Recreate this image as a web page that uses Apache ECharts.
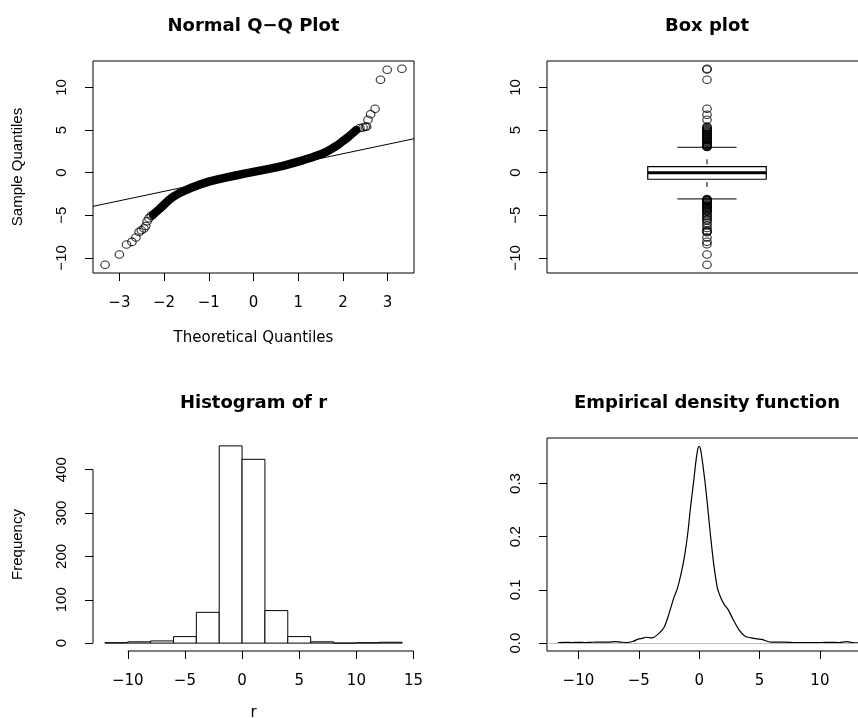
<!DOCTYPE html>
<html>
<head>
<meta charset="utf-8">
<script src="https://cdn.jsdelivr.net/npm/echarts@6/dist/echarts.min.js"></script>
<style>
html,body{margin:0;padding:0;background:#fff}
#main{width:858px;height:718px}
</style>
</head>
<body>
<div id="main"></div>
<script>
//Q-Q 图：两端单独的点
let qqTailX = [-3.32, -3.0, -2.84, -2.72, -2.63, -2.56, -2.51, -2.45, -2.41, -2.38, -2.34, -2.29,
               2.38, 2.45, 2.50, 2.53, 2.56, 2.62, 2.72, 2.84, 2.99, 3.32]
let qqTailY = [-10.8, -9.6, -8.43, -8.12, -7.6, -6.95, -6.75, -6.55, -6.25, -5.7, -5.35, -5.07,
               5.23, 5.3, 5.38, 5.42, 6.2, 6.85, 7.5, 10.9, 12.08, 12.2]
//Q-Q 图：中间密集的点（连成粗带）
let qqBandX = [-2.25, -2.2, -2.1, -2.0, -1.9, -1.8, -1.66, -1.5, -1.36, -1.2, -1.0, -0.8, -0.6, -0.4, -0.2,
               0, 0.2, 0.4, 0.66, 0.9, 1.1, 1.3, 1.5, 1.65, 1.78, 1.9, 2.0, 2.1, 2.2, 2.3]
let qqBandY = [-4.95, -4.7, -4.25, -3.75, -3.25, -2.85, -2.4, -2.03, -1.7, -1.4, -1.05, -0.8, -0.55, -0.33, -0.12,
               0.1, 0.3, 0.5, 0.8, 1.15, 1.45, 1.78, 2.15, 2.5, 2.9, 3.3, 3.72, 4.1, 4.55, 5.0]
//qqline
let qqLineX = [-3.59, 3.59]
let qqLineY = [-3.95, 3.98]
let qqXTicks = [-3, -2, -1, 0, 1, 2, 3]
let sampleTicks = [-10, -5, 0, 5, 10]
let qqXlim = [-3.59, 3.59]
let sampleYlim = [-11.77, 13.1]

//箱线图：下须、Q1、中位数、Q3、上须
let boxStats = [-3.08, -0.77, 0.0, 0.70, 2.98]
let boxOutliers = [3.0, 3.05, 3.1, 3.15, 3.2, 3.25, 3.3, 3.4, 3.5, 3.6, 3.7, 3.8, 3.9, 4.0, 4.1, 4.2, 4.3, 4.4, 4.5, 4.6, 4.7, 4.8, 4.9,
                   5.0, 5.1, 5.2, 5.3, 5.4, 6.2, 6.8, 7.5, 10.9, 12.1, 12.2,
                   -3.1, -3.15, -3.2, -3.25, -3.3, -3.4, -3.5, -3.6, -3.7, -3.8, -3.9, -4.0, -4.1, -4.2, -4.3, -4.4, -4.5, -4.6,
                   -4.8, -5.0, -5.1, -5.3, -5.5, -5.6, -5.9, -6.2, -6.5, -6.8, -6.9, -7.0, -7.6, -8.1, -8.4, -9.6, -10.8]
let boxXlim = [0.46, 1.54]

//直方图
let histBreaks = [-12, -10, -8, -6, -4, -2, 0, 2, 4, 6, 8, 10, 12, 14]
let histCounts = [1, 3, 5, 15, 71, 455, 424, 75, 15, 3, 0, 1, 2]
let histXTicks = [-10, -5, 0, 5, 10, 15]
let histYTicks = [0, 100, 200, 300, 400]
let histXlim = [-13.04, 15.04]
let histYlim = [-18.2, 473.2]

//核密度曲线
let densX = [-11.7, -11.0, -10.5, -10.0, -9.5, -9.0, -8.5, -8.0, -7.5, -7.0, -6.5, -6.0, -5.5, -5.0, -4.7, -4.4,
             -3.9, -3.4, -2.9, -2.5, -2.1, -1.8, -1.5, -1.2, -0.95, -0.7, -0.45, -0.25, -0.1, 0,
             0.1, 0.25, 0.5, 0.7, 0.95, 1.2, 1.5, 1.8, 2.1, 2.4, 2.8, 3.3, 3.8, 4.3, 4.8, 5.2, 5.7,
             6.0, 7.0, 8.0, 9.0, 10.0, 11.0, 11.5, 12.2, 12.7, 13.3]
let densY = [0.001, 0.0015, 0.001, 0.0015, 0.001, 0.0015, 0.002, 0.002, 0.002, 0.003, 0.002, 0.001, 0.003, 0.008, 0.009, 0.011,
             0.010, 0.017, 0.030, 0.055, 0.085, 0.103, 0.13, 0.165, 0.205, 0.258, 0.305, 0.345, 0.366, 0.370,
             0.366, 0.345, 0.300, 0.257, 0.200, 0.150, 0.105, 0.085, 0.072, 0.063, 0.045, 0.025, 0.013, 0.010, 0.008, 0.007, 0.003,
             0.002, 0.002, 0.001, 0.001, 0.001, 0.0015, 0.001, 0.003, 0.001, 0.0005]
let densXTicks = [-10, -5, 0, 5, 10]
let densYTicks = [0, 0.1, 0.2, 0.3]
let densXlim = [-12.6, 13.9]
let densYlim = [-0.0148, 0.3855]

let hFont = 'DejaVu Sans'
let vFont = 'Liberation Sans'

//负号换成 R 里的长减号
function minusFmt(v){
    return String(v).replace('-', '\u2212')
}

function xAxisOf(gridIndex, lim, ticks, fmt, name, nameGap){
    return {
        type:'value', gridIndex:gridIndex, min:lim[0], max:lim[1],
        axisLine:{show:false, onZero:false}, splitLine:{show:false},
        axisTick:{show:true, inside:false, length:8, customValues:ticks, lineStyle:{color:'#000'}},
        axisLabel:{customValues:ticks, formatter:fmt, color:'#000', fontSize:15, fontFamily:hFont, margin:23},
        name:name || '', nameLocation:'middle', nameGap:nameGap || 50,
        nameTextStyle:{color:'#000', fontSize:15, fontFamily:hFont}
    }
}

function yAxisOf(gridIndex, lim, ticks, fmt, name){
    return {
        type:'value', gridIndex:gridIndex, min:lim[0], max:lim[1],
        axisLine:{show:false, onZero:false}, splitLine:{show:false},
        axisTick:{show:true, inside:false, length:8, customValues:ticks, lineStyle:{color:'#000'}},
        axisLabel:{customValues:ticks, formatter:fmt, color:'#000', fontSize:15, fontFamily:vFont, rotate:90, margin:24},
        name:name || '', nameLocation:'middle', nameGap:68, nameRotate:90,
        nameTextStyle:{color:'#000', fontSize:15, fontFamily:vFont}
    }
}

let boxGrid = {show:true, borderColor:'#000', borderWidth:1, backgroundColor:'transparent', outerBoundsMode:'none'}
let circleStyle = {color:'rgba(0,0,0,0)', borderColor:'#000', borderWidth:1.1}

let myChart = echarts.init(document.getElementById('main'), null, {renderer:'canvas'})

let option = {
    backgroundColor:'#fff',
    animation:false,
    textStyle:{fontFamily:hFont},
    title:[
        {text:'Normal Q\u2212Q Plot', left:253.5, top:17, textAlign:'center', padding:0,
         textStyle:{fontSize:18, fontWeight:'bold', color:'#000', fontFamily:hFont}},
        {text:'Box plot', left:707, top:17, textAlign:'center', padding:0,
         textStyle:{fontSize:18, fontWeight:'bold', color:'#000', fontFamily:hFont}},
        {text:'Histogram of r', left:253.5, top:394, textAlign:'center', padding:0,
         textStyle:{fontSize:18, fontWeight:'bold', color:'#000', fontFamily:hFont}},
        {text:'Empirical density function', left:707, top:394, textAlign:'center', padding:0,
         textStyle:{fontSize:18, fontWeight:'bold', color:'#000', fontFamily:hFont}}
    ],
    grid:[
        Object.assign({left:93, top:61, width:321, height:212}, boxGrid),
        Object.assign({left:547, top:61, width:320, height:212}, boxGrid),
        {left:93, top:438, width:321, height:213, show:false, outerBoundsMode:'none'},
        Object.assign({left:547, top:438, width:320, height:213}, boxGrid)
    ],
    xAxis:[
        xAxisOf(0, qqXlim, qqXTicks, minusFmt, 'Theoretical Quantiles', 58),
        {type:'value', gridIndex:1, min:boxXlim[0], max:boxXlim[1], show:false},
        xAxisOf(2, histXlim, histXTicks, minusFmt, 'r', 55),
        xAxisOf(3, densXlim, densXTicks, minusFmt, '', 50)
    ],
    yAxis:[
        yAxisOf(0, sampleYlim, sampleTicks, minusFmt, 'Sample Quantiles'),
        yAxisOf(1, sampleYlim, sampleTicks, minusFmt, ''),
        yAxisOf(2, histYlim, histYTicks, minusFmt, 'Frequency'),
        yAxisOf(3, densYlim, densYTicks, v => v.toFixed(1), '')
    ],
    series:[
        //Q-Q 密集带
        {
            type:'line', xAxisIndex:0, yAxisIndex:0, symbol:'none',
            data:qqBandX.map((x, i) => [x, qqBandY[i]]),
            lineStyle:{color:'#000', width:8.5, cap:'round', join:'round'}
        },
        //Q-Q 两端的点
        {
            type:'scatter', xAxisIndex:0, yAxisIndex:0, symbol:'circle', symbolSize:[8.5, 7.5],
            data:qqTailX.map((x, i) => [x, qqTailY[i]]),
            itemStyle:circleStyle
        },
        //qqline
        {
            type:'line', xAxisIndex:0, yAxisIndex:0, symbol:'none',
            data:qqLineX.map((x, i) => [x, qqLineY[i]]),
            lineStyle:{color:'#000', width:1}
        },
        //箱线图
        {
            type:'custom', xAxisIndex:1, yAxisIndex:1,
            data:[[1].concat(boxStats)],
            renderItem(params, api){
                let x = api.value(0)
                let lo = api.value(1), q1 = api.value(2), med = api.value(3), q3 = api.value(4), hi = api.value(5)
                let boxL = api.coord([x - 0.2, q3]), boxR = api.coord([x + 0.2, q1])
                let medL = api.coord([x - 0.2, med]), medR = api.coord([x + 0.2, med])
                let c = api.coord([x, 0])[0]
                let capL = api.coord([x - 0.1, hi])[0], capR = api.coord([x + 0.1, hi])[0]
                let yHi = api.coord([x, hi])[1], yLo = api.coord([x, lo])[1]
                let dash = {stroke:'#000', lineWidth:1, lineDash:[5, 12], lineDashOffset:5}
                return {
                    type:'group',
                    children:[
                        {type:'line', shape:{x1:c, y1:yHi, x2:c, y2:boxL[1]}, style:dash},
                        {type:'line', shape:{x1:c, y1:yLo, x2:c, y2:boxR[1]}, style:dash},
                        {type:'line', shape:{x1:capL, y1:yHi, x2:capR, y2:yHi}, style:{stroke:'#000', lineWidth:1}},
                        {type:'line', shape:{x1:capL, y1:yLo, x2:capR, y2:yLo}, style:{stroke:'#000', lineWidth:1}},
                        {type:'rect', shape:{x:boxL[0], y:boxL[1], width:boxR[0] - boxL[0], height:boxR[1] - boxL[1]},
                         style:{fill:'none', stroke:'#000', lineWidth:1.2}},
                        {type:'line', shape:{x1:medL[0], y1:medL[1], x2:medR[0], y2:medR[1]}, style:{stroke:'#000', lineWidth:3}}
                    ]
                }
            }
        },
        {
            type:'scatter', xAxisIndex:1, yAxisIndex:1, symbol:'circle', symbolSize:[8.5, 7.5],
            data:boxOutliers.map(v => [1, v]),
            itemStyle:circleStyle
        },
        //直方图
        {
            type:'custom', xAxisIndex:2, yAxisIndex:2,
            data:histCounts.map((c, i) => [histBreaks[i], histBreaks[i + 1], c]),
            renderItem(params, api){
                let p0 = api.coord([api.value(0), api.value(2)])
                let p1 = api.coord([api.value(1), 0])
                return {
                    type:'rect',
                    shape:{x:p0[0], y:p0[1], width:p1[0] - p0[0], height:p1[1] - p0[1]},
                    style:{fill:'#fff', stroke:'#000', lineWidth:1}
                }
            }
        },
        //直方图坐标轴线（只画到首末刻度）
        {
            type:'line', xAxisIndex:2, yAxisIndex:2, symbol:'none', clip:false,
            data:[[histXTicks[0], histYlim[0]], [histXTicks[histXTicks.length - 1], histYlim[0]]],
            lineStyle:{color:'#000', width:1}
        },
        {
            type:'line', xAxisIndex:2, yAxisIndex:2, symbol:'none', clip:false,
            data:[[histXlim[0], histYTicks[0]], [histXlim[0], histYTicks[histYTicks.length - 1]]],
            lineStyle:{color:'#000', width:1}
        },
        //密度曲线
        {
            type:'line', xAxisIndex:3, yAxisIndex:3, symbol:'none', smooth:0.3,
            data:densX.map((x, i) => [x, densY[i]]),
            lineStyle:{color:'#000', width:1.2},
            markLine:{
                silent:true, symbol:'none', label:{show:false},
                lineStyle:{color:'#bebebe', type:'solid', width:1},
                data:[{yAxis:0}]
            }
        }
    ]
}
myChart.setOption(option)
</script>
</body>
</html>
